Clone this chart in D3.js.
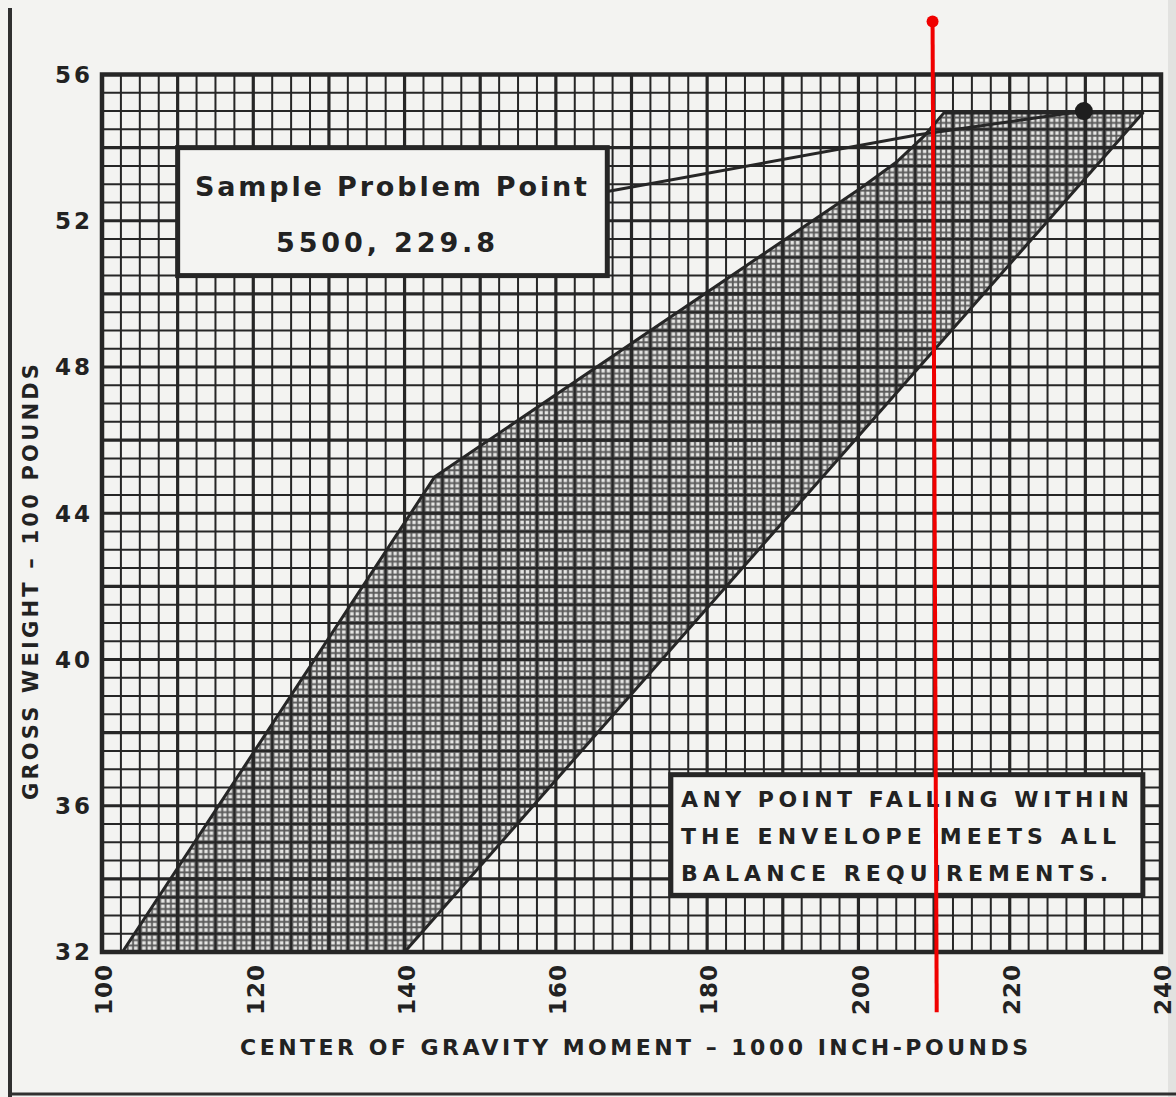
<!DOCTYPE html>
<html>
<head>
<meta charset="utf-8">
<script src="https://cdn.jsdelivr.net/npm/d3@7"></script>
<style>
  body { margin: 0; background: #f3f3f1; }
  svg { display: block; }
  text { font-family: "DejaVu Sans", sans-serif; font-weight: bold; fill: #222; }
</style>
</head>
<body>
<svg id="chart" width="1176" height="1097"></svg>
<script>
// data
const xTicks = [100, 120, 140, 160, 180, 200, 220, 240];
const yTicks = [32, 36, 40, 44, 48, 52, 56];
// envelope outline (moment, weight)
const envelope = [[102.7, 32], [144, 45], [200, 52.85], [205, 53.6], [208.6, 54.3],
                  [211.3, 54.95], [237.6, 54.95], [140, 32]];
const samplePoint = [229.8, 55];
const leader = [[166.8, 52.8], [207.9, 54.35], [229.8, 55]];
const redLine = [[209.8, 57.45], [210.35, 30.35]];
const sampleLines = ["Sample Problem Point", "5500, 229.8"];
const noteLines = ["ANY POINT FALLING WITHIN", "THE ENVELOPE MEETS ALL", "BALANCE REQUIREMENTS."];

document.addEventListener('DOMContentLoaded', () => {
    drawChart();
});

function drawChart() {
    const svg = d3.select("#chart");
    const ink = "#262626";

    const x = d3.scaleLinear().domain([100, 240]).range([102, 1161]);
    const y = d3.scaleLinear().domain([32, 56]).range([952, 74.5]);

    // page edges of the scan
    svg.append("rect").attr("x", 1168).attr("y", 0).attr("width", 8).attr("height", 1097).attr("fill", "#e2e2e0");
    svg.append("line").attr("x1", 10).attr("x2", 10).attr("y1", 8).attr("y2", 1097)
        .attr("stroke", "#303030").attr("stroke-width", 4);
    svg.append("line").attr("x1", 10).attr("x2", 1176).attr("y1", 1094).attr("y2", 1094)
        .attr("stroke", "#303030").attr("stroke-width", 3);

    // halftone texture, one tile per grid cell
    const cw = x(102.5) - x(100), ch = y(32) - y(32.5);
    const pat = svg.append("defs").append("pattern")
        .attr("id", "dots")
        .attr("patternUnits", "userSpaceOnUse")
        .attr("x", x(100)).attr("y", y(56))
        .attr("width", cw).attr("height", ch);
    pat.append("rect").attr("width", cw).attr("height", ch).attr("fill", "#5a5a5a");
    const sq = 3.5, gap = 1.9;
    const off = (cw - (3 * sq + 2 * gap)) / 2, offy = (ch - (3 * sq + 2 * gap)) / 2;
    for (let i = 0; i < 3; i++) {
        for (let j = 0; j < 3; j++) {
            pat.append("rect")
                .attr("x", off + i * (sq + gap)).attr("y", offy + j * (sq + gap))
                .attr("width", sq).attr("height", sq).attr("fill", "#e6e6e4");
        }
    }

    // envelope fill
    const line = d3.line().x(d => x(d[0])).y(d => y(d[1]));
    svg.append("path")
        .attr("d", line(envelope) + "Z")
        .attr("fill", "url(#dots)");

    // grid
    const xs = d3.range(100, 240.01, 2.5);
    const ys = d3.range(32, 56.01, 0.5);
    svg.append("g").selectAll("line").data(xs).join("line")
        .attr("x1", d => x(d)).attr("x2", d => x(d))
        .attr("y1", y(56)).attr("y2", y(32))
        .attr("stroke", ink)
        .attr("stroke-width", d => (d % 10 === 0) ? 3.2 : 2);
    svg.append("g").selectAll("line").data(ys).join("line")
        .attr("x1", x(100)).attr("x2", x(240))
        .attr("y1", d => y(d)).attr("y2", d => y(d))
        .attr("stroke", ink)
        .attr("stroke-width", d => (d % 2 === 0) ? 3.2 : 2);
    svg.append("rect")
        .attr("x", x(100)).attr("y", y(56))
        .attr("width", x(240) - x(100)).attr("height", y(32) - y(56))
        .attr("fill", "none").attr("stroke", ink).attr("stroke-width", 4.5);

    // envelope outline
    svg.append("path")
        .attr("d", line(envelope) + "Z")
        .attr("fill", "none").attr("stroke", ink)
        .attr("stroke-width", 3).attr("stroke-linejoin", "round");

    // tick labels
    svg.append("g").selectAll("text").data(yTicks).join("text")
        .attr("x", 93).attr("y", d => y(d))
        .attr("dy", "0.36em")
        .attr("text-anchor", "end")
        .attr("font-size", 23).attr("letter-spacing", 3)
        .text(d => d);
    svg.append("g").selectAll("text").data(xTicks).join("text")
        .attr("transform", d => `translate(${x(d) + 2},${964}) rotate(-90)`)
        .attr("dy", "0.36em")
        .attr("text-anchor", "end")
        .attr("font-size", 23).attr("letter-spacing", 1)
        .text(d => d);

    // axis titles
    svg.append("text")
        .attr("x", 240).attr("y", 1055)
        .attr("font-size", 22)
        .attr("textLength", 788).attr("lengthAdjust", "spacing")
        .text("CENTER OF GRAVITY MOMENT – 1000 INCH-POUNDS");
    svg.append("text")
        .attr("transform", "translate(38,800) rotate(-90)")
        .attr("font-size", 21)
        .attr("textLength", 436).attr("lengthAdjust", "spacing")
        .text("GROSS WEIGHT – 100 POUNDS");

    // leader line and sample point
    svg.append("path")
        .attr("d", line(leader))
        .attr("fill", "none").attr("stroke", ink).attr("stroke-width", 3);
    svg.append("circle")
        .attr("cx", x(samplePoint[0])).attr("cy", y(samplePoint[1]))
        .attr("r", 9).attr("fill", "#1e1e1e");

    // sample problem box
    svg.append("rect")
        .attr("x", x(110)).attr("y", y(54))
        .attr("width", x(166.8) - x(110)).attr("height", y(50.5) - y(54))
        .attr("fill", "#f4f4f2").attr("stroke", ink).attr("stroke-width", 5);
    const sampleSpec = [{bx: 195, by: 196, w: 392, fs: 27}, {bx: 276, by: 252, w: 219, fs: 27}];
    svg.append("g").selectAll("text").data(sampleLines).join("text")
        .attr("x", (d, i) => sampleSpec[i].bx).attr("y", (d, i) => sampleSpec[i].by)
        .attr("font-size", (d, i) => sampleSpec[i].fs)
        .attr("textLength", (d, i) => sampleSpec[i].w).attr("lengthAdjust", "spacing")
        .text(d => d);

    // note box
    svg.append("rect")
        .attr("x", x(175.2)).attr("y", y(36.85))
        .attr("width", x(237.6) - x(175.2)).attr("height", y(33.55) - y(36.85))
        .attr("fill", "#f4f4f2").attr("stroke", ink).attr("stroke-width", 5);
    const noteW = [448, 435, 427];
    svg.append("g").selectAll("text").data(noteLines).join("text")
        .attr("x", 681).attr("y", (d, i) => 807 + i * 37)
        .attr("font-size", 22)
        .attr("textLength", (d, i) => noteW[i]).attr("lengthAdjust", "spacing")
        .text(d => d);

    // red marker line drawn over the scan
    svg.append("path")
        .attr("d", line(redLine))
        .attr("stroke", "#f00000").attr("stroke-width", 4);
    svg.append("circle")
        .attr("cx", x(redLine[0][0])).attr("cy", y(redLine[0][1]))
        .attr("r", 6).attr("fill", "#f00000");
}
</script>
</body>
</html>
